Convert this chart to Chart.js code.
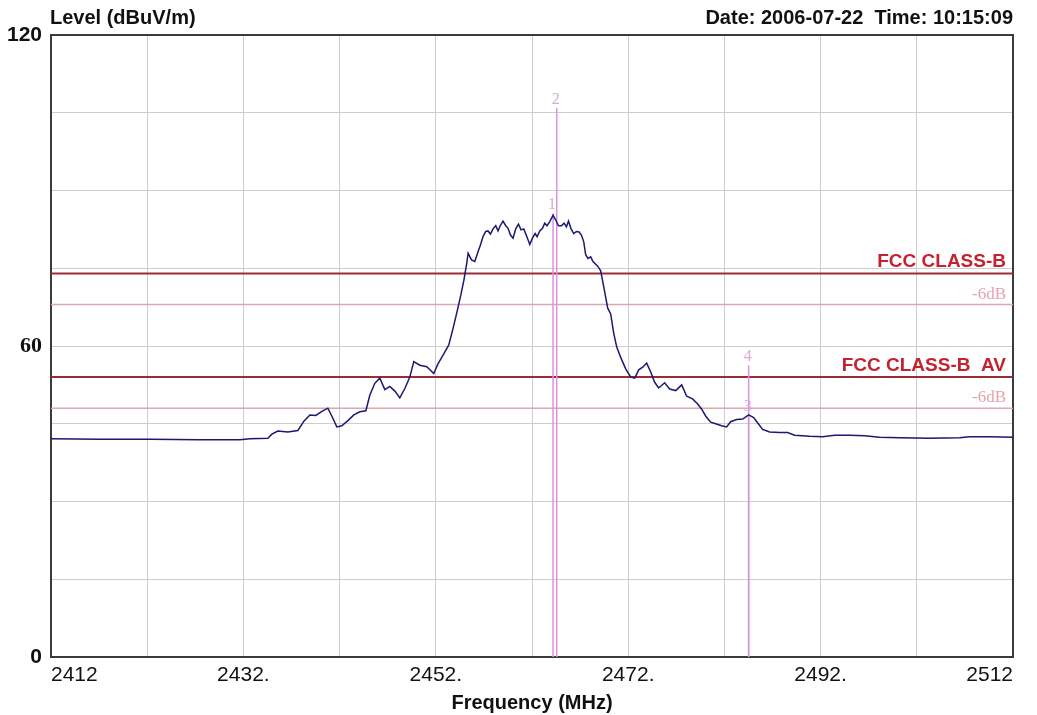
<!DOCTYPE html>
<html>
<head>
<meta charset="utf-8">
<script src="https://cdn.jsdelivr.net/npm/chart.js@4.4.0/dist/chart.umd.min.js"></script>
<style>
  html, body { margin: 0; padding: 0; background: #ffffff; }
  canvas { display: block; }
</style>
</head>
<body>
<canvas id="scan" width="1037" height="715"></canvas>
<script>
// Measured field strength trace (peak detector), 2412–2512 MHz sweep
const freqMHz = [
  2412.00, 2417.09, 2422.29, 2427.48, 2431.64, 2432.68, 2434.55, 2434.96, 2435.58, 2436.62,
  2437.66, 2438.29, 2438.91, 2439.53, 2440.16, 2440.78, 2441.19, 2441.71, 2442.23, 2442.86,
  2443.48, 2444.10, 2444.73, 2445.14, 2445.66, 2446.18, 2446.70, 2447.22, 2447.74, 2448.26,
  2448.78, 2449.30, 2449.71, 2450.34, 2451.06, 2451.79, 2452.21, 2452.83, 2453.35, 2453.77,
  2454.18, 2454.60, 2454.91, 2455.22, 2455.36, 2455.71, 2456.05, 2456.39, 2456.64, 2456.91,
  2457.19, 2457.43, 2457.68, 2457.95, 2458.23, 2458.47, 2458.72, 2458.99, 2459.27, 2459.51,
  2459.76, 2460.03, 2460.31, 2460.59, 2460.86, 2461.14, 2461.42, 2461.77, 2462.05, 2462.32,
  2462.53, 2462.81, 2463.09, 2463.32, 2463.56, 2463.84, 2464.19, 2464.47, 2464.75, 2465.06,
  2465.33, 2465.58, 2465.79, 2466.06, 2466.34, 2466.62, 2466.89, 2467.14, 2467.38, 2467.58,
  2467.82, 2468.10, 2468.34, 2468.83, 2469.14, 2469.45, 2469.87, 2470.18, 2470.49, 2470.81,
  2471.22, 2471.74, 2472.26, 2472.68, 2473.09, 2473.51, 2473.92, 2474.34, 2474.75, 2475.17,
  2475.79, 2476.31, 2476.94, 2477.56, 2478.08, 2478.70, 2479.22, 2479.64, 2480.05, 2480.57,
  2481.09, 2481.71, 2482.23, 2482.65, 2483.27, 2483.90, 2484.52, 2485.04, 2485.45, 2485.97,
  2486.70, 2487.74, 2488.57, 2489.30, 2490.86, 2492.21, 2493.45, 2495.01, 2496.57, 2498.13,
  2500.21, 2503.32, 2506.44, 2507.48, 2509.56, 2512.00
];
const levelDbuV = [
  42.1, 42.0, 42.0, 41.9, 41.9, 42.1, 42.2, 43.0, 43.6, 43.4,
  43.7, 45.5, 46.7, 46.6, 47.4, 48.0, 46.5, 44.4, 44.6, 45.6,
  46.7, 47.3, 47.5, 50.5, 52.8, 53.8, 51.6, 52.2, 51.3, 50.0,
  51.8, 54.0, 57.0, 56.3, 56.0, 54.7, 56.5, 58.5, 60.2, 63.2,
  66.4, 69.8, 72.6, 76.0, 77.9, 76.6, 76.3, 78.2, 79.5, 81.1,
  82.1, 82.2, 81.6, 82.6, 83.2, 82.2, 83.3, 84.1, 83.2, 82.7,
  81.4, 80.8, 82.6, 83.5, 82.4, 82.6, 81.3, 79.6, 80.8, 81.7,
  81.1, 82.2, 82.7, 83.7, 83.2, 84.0, 85.2, 84.3, 83.2, 83.2,
  83.7, 83.0, 84.1, 82.6, 81.7, 82.1, 82.0, 81.4, 80.1, 77.6,
  76.9, 77.2, 76.3, 75.4, 74.5, 71.5, 67.3, 66.2, 62.5, 59.8,
  57.8, 55.6, 54.0, 53.8, 55.4, 55.9, 56.7, 55.0, 53.0, 51.9,
  52.9, 51.7, 51.4, 52.5, 50.3, 49.8, 48.8, 47.8, 46.5, 45.3,
  45.0, 44.6, 44.4, 45.4, 45.8, 45.9, 46.7, 46.2, 45.2, 43.9,
  43.4, 43.3, 43.3, 42.8, 42.6, 42.5, 42.8, 42.8, 42.7, 42.4,
  42.3, 42.2, 42.3, 42.5, 42.5, 42.4
];

// Limit lines
const limitNames = ['FCC CLASS-B', '-6dB', 'FCC CLASS-B  AV', '-6dB'];
const limitLevels = [74, 68, 54, 48];

// Markers
const markerIds = ['1', '2', '3', '4'];
const markerFreqs = [2464.19, 2464.57, 2484.52, 2484.52];
const markerLevels = [85.6, 105.9, 46.7, 56.3];

// Axis ticks
const xTickValues = [2412, 2422, 2432, 2442, 2452, 2462, 2472, 2482, 2492, 2502, 2512];
const xTickLabels = ['2412', '', '2432.', '', '2452.', '', '2472.', '', '2492.', '', '2512'];
const yTickLabelValues = [0, 60, 120];

const headerLeft = 'Level (dBuV/m)';
const headerRight = 'Date: 2006-07-22  Time: 10:15:09';
const xTitle = 'Frequency (MHz)';

const SANS = "'Liberation Sans', Arial, sans-serif";
const SERIF = "'Liberation Serif', 'Times New Roman', serif";

const traceColor = '#1a1a70';
const limitColors = ['#9e2a33', '#dba7b0', '#9e2a33', '#dba7b0'];
const limitWidths = [2, 1.5, 2, 1.5];
const limitTextColors = ['#c4222e', '#e6a3ad', '#c4222e', '#e6a3ad'];
const markerColor = '#da93dc';
const markerTextColor = '#d9a9dc';

const datasets = [];

limitLevels.forEach((lvl, i) => {
  datasets.push({
    label: limitNames[i],
    data: [{ x: xTickValues[0], y: lvl }, { x: xTickValues[xTickValues.length - 1], y: lvl }],
    borderColor: limitColors[i],
    borderWidth: limitWidths[i],
    pointRadius: 0,
    order: 3
  });
});

markerFreqs.forEach((f, i) => {
  datasets.push({
    label: 'M' + markerIds[i],
    data: [{ x: f, y: 0 }, { x: f, y: markerLevels[i] }],
    borderColor: markerColor,
    borderWidth: 1.5,
    pointRadius: 0,
    order: 2
  });
});

datasets.push({
  label: 'Level',
  data: freqMHz.map((f, i) => ({ x: f, y: levelDbuV[i] })),
  borderColor: traceColor,
  borderWidth: 1.5,
  pointRadius: 0,
  tension: 0,
  order: 1
});

const annotate = {
  id: 'annotate',
  beforeDatasetsDraw(chart) {
    const { ctx, chartArea: a } = chart;
    ctx.save();
    ctx.strokeStyle = '#3a3a3a';
    ctx.lineWidth = 2;
    ctx.strokeRect(a.left, a.top, a.right - a.left, a.bottom - a.top);
    ctx.restore();
  },
  afterDatasetsDraw(chart) {
    const { ctx, chartArea: a, scales } = chart;
    const xs = scales.x, ys = scales.y;
    ctx.save();
    // header
    ctx.fillStyle = '#111111';
    ctx.font = 'bold 20px ' + SANS;
    ctx.textBaseline = 'alphabetic';
    ctx.textAlign = 'left';
    ctx.fillText(headerLeft, a.left - 1, 24);
    ctx.textAlign = 'right';
    ctx.fillText(headerRight, a.right, 24);

    // limit labels
    limitLevels.forEach((lvl, i) => {
      const y = ys.getPixelForValue(lvl);
      const major = i % 2 === 0;
      ctx.font = major ? 'bold 19px ' + SANS : '17px ' + SERIF;
      ctx.fillStyle = limitTextColors[i];
      ctx.textAlign = 'right';
      ctx.fillText(limitNames[i], a.right - 7, y - 6);
    });

    // marker labels
    ctx.font = '16px ' + SERIF;
    ctx.fillStyle = markerTextColor;
    ctx.textAlign = 'center';
    markerFreqs.forEach((f, i) => {
      const x = xs.getPixelForValue(f);
      const y = ys.getPixelForValue(markerLevels[i]);
      ctx.fillText(markerIds[i], x - 1, y - 4);
    });
    ctx.restore();
  }
};

new Chart(document.getElementById('scan'), {
  type: 'line',
  data: { datasets },
  options: {
    responsive: false,
    animation: false,
    devicePixelRatio: 1,
    layout: { padding: { left: 0, right: 24, top: 35, bottom: 0 } },
    plugins: { legend: { display: false }, tooltip: { enabled: false } },
    scales: {
      x: {
        type: 'linear',
        min: 2412,
        max: 2512,
        afterBuildTicks(scale) {
          scale.ticks = xTickValues.map(v => ({ value: v }));
        },
        afterFit(scale) { scale.height = 58; },
        grid: { color: '#cdcdcd', lineWidth: 1, drawTicks: false },
        border: { display: false },
        ticks: {
          autoSkip: false,
          maxRotation: 0,
          align: 'inner',
          padding: 6,
          color: '#111111',
          font: { family: SANS, size: 21 },
          callback(value, index) { return xTickLabels[index]; }
        },
        title: {
          display: true,
          text: xTitle,
          color: '#111111',
          font: { family: SANS, size: 20, weight: 'bold' },
          padding: { top: 0, bottom: 0 }
        }
      },
      y: {
        type: 'linear',
        min: 0,
        max: 120,
        afterFit(scale) { scale.width = 51; },
        grid: { color: '#cdcdcd', lineWidth: 1, drawTicks: false },
        border: { display: false },
        ticks: {
          stepSize: 15,
          padding: 9,
          color: '#111111',
          font(ctx) {
            const v = ctx.tick ? ctx.tick.value : 0;
            return v === 60
              ? { family: SERIF, size: 22, weight: 'bold' }
              : { family: SANS, size: 21, weight: 'bold' };
          },
          callback(value) { return yTickLabelValues.includes(value) ? String(value) : ''; }
        }
      }
    }
  },
  plugins: [annotate]
});
</script>
</body>
</html>
